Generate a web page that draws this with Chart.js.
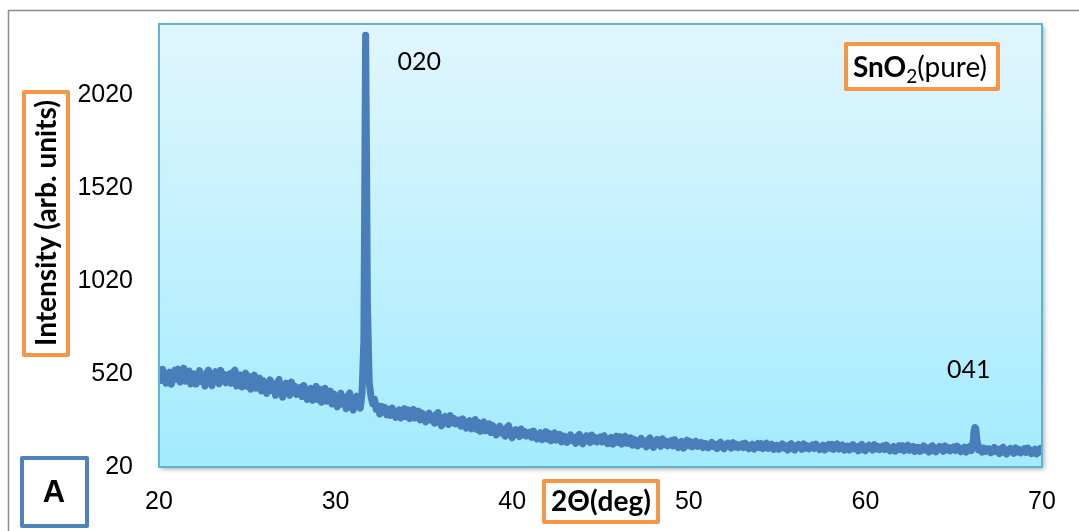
<!DOCTYPE html>
<html>
<head>
<meta charset="utf-8">
<script src="https://cdn.jsdelivr.net/npm/chart.js@4/dist/chart.umd.min.js"></script>
<style>
  html, body { margin: 0; padding: 0; background: #fff; }
  #wrap { width: 1079px; height: 531px; position: relative; }
</style>
</head>
<body>
<div id="wrap"><canvas id="xrd"></canvas></div>
<script>
// 2theta positions (deg)
const twoTheta = [
  20, 20.1, 20.2, 20.3, 20.4, 20.5, 20.6, 20.7, 20.8, 20.9,
  21, 21.1, 21.2, 21.3, 21.4, 21.5, 21.6, 21.7, 21.8, 21.9,
  22, 22.1, 22.2, 22.3, 22.4, 22.5, 22.6, 22.7, 22.8, 22.9,
  23, 23.1, 23.2, 23.3, 23.4, 23.5, 23.6, 23.7, 23.8, 23.9,
  24, 24.1, 24.2, 24.3, 24.4, 24.5, 24.6, 24.7, 24.8, 24.9,
  25, 25.1, 25.2, 25.3, 25.4, 25.5, 25.6, 25.7, 25.8, 25.9,
  26, 26.1, 26.2, 26.3, 26.4, 26.5, 26.6, 26.7, 26.8, 26.9,
  27, 27.1, 27.2, 27.3, 27.4, 27.5, 27.6, 27.7, 27.8, 27.9,
  28, 28.1, 28.2, 28.3, 28.4, 28.5, 28.6, 28.7, 28.8, 28.9,
  29, 29.1, 29.2, 29.3, 29.4, 29.5, 29.6, 29.7, 29.8, 29.9,
  30, 30.1, 30.2, 30.3, 30.4, 30.5, 30.6, 30.7, 30.8, 30.9,
  31, 31.1, 31.2, 31.3, 31.4, 31.5, 31.6, 31.65, 31.7, 31.75, 31.8, 31.9,
  32, 32.1, 32.2, 32.3, 32.4, 32.5, 32.6, 32.7, 32.8, 32.9,
  33, 33.1, 33.2, 33.3, 33.4, 33.5, 33.6, 33.7, 33.8, 33.9,
  34, 34.1, 34.2, 34.3, 34.4, 34.5, 34.6, 34.7, 34.8, 34.9,
  35, 35.1, 35.2, 35.3, 35.4, 35.5, 35.6, 35.7, 35.8, 35.9,
  36, 36.1, 36.2, 36.3, 36.4, 36.5, 36.6, 36.7, 36.8, 36.9,
  37, 37.1, 37.2, 37.3, 37.4, 37.5, 37.6, 37.7, 37.8, 37.9,
  38, 38.1, 38.2, 38.3, 38.4, 38.5, 38.6, 38.7, 38.8, 38.9,
  39, 39.1, 39.2, 39.3, 39.4, 39.5, 39.6, 39.7, 39.8, 39.9,
  40, 40.1, 40.2, 40.3, 40.4, 40.5, 40.6, 40.7, 40.8, 40.9,
  41, 41.1, 41.2, 41.3, 41.4, 41.5, 41.6, 41.7, 41.8, 41.9,
  42, 42.1, 42.2, 42.3, 42.4, 42.5, 42.6, 42.7, 42.8, 42.9,
  43, 43.1, 43.2, 43.3, 43.4, 43.5, 43.6, 43.7, 43.8, 43.9,
  44, 44.1, 44.2, 44.3, 44.4, 44.5, 44.6, 44.7, 44.8, 44.9,
  45, 45.1, 45.2, 45.3, 45.4, 45.5, 45.6, 45.7, 45.8, 45.9,
  46, 46.1, 46.2, 46.3, 46.4, 46.5, 46.6, 46.7, 46.8, 46.9,
  47, 47.1, 47.2, 47.3, 47.4, 47.5, 47.6, 47.7, 47.8, 47.9,
  48, 48.1, 48.2, 48.3, 48.4, 48.5, 48.6, 48.7, 48.8, 48.9,
  49, 49.1, 49.2, 49.3, 49.4, 49.5, 49.6, 49.7, 49.8, 49.9,
  50, 50.1, 50.2, 50.3, 50.4, 50.5, 50.6, 50.7, 50.8, 50.9,
  51, 51.1, 51.2, 51.3, 51.4, 51.5, 51.6, 51.7, 51.8, 51.9,
  52, 52.1, 52.2, 52.3, 52.4, 52.5, 52.6, 52.7, 52.8, 52.9,
  53, 53.1, 53.2, 53.3, 53.4, 53.5, 53.6, 53.7, 53.8, 53.9,
  54, 54.1, 54.2, 54.3, 54.4, 54.5, 54.6, 54.7, 54.8, 54.9,
  55, 55.1, 55.2, 55.3, 55.4, 55.5, 55.6, 55.7, 55.8, 55.9,
  56, 56.1, 56.2, 56.3, 56.4, 56.5, 56.6, 56.7, 56.8, 56.9,
  57, 57.1, 57.2, 57.3, 57.4, 57.5, 57.6, 57.7, 57.8, 57.9,
  58, 58.1, 58.2, 58.3, 58.4, 58.5, 58.6, 58.7, 58.8, 58.9,
  59, 59.1, 59.2, 59.3, 59.4, 59.5, 59.6, 59.7, 59.8, 59.9,
  60, 60.1, 60.2, 60.3, 60.4, 60.5, 60.6, 60.7, 60.8, 60.9,
  61, 61.1, 61.2, 61.3, 61.4, 61.5, 61.6, 61.7, 61.8, 61.9,
  62, 62.1, 62.2, 62.3, 62.4, 62.5, 62.6, 62.7, 62.8, 62.9,
  63, 63.1, 63.2, 63.3, 63.4, 63.5, 63.6, 63.7, 63.8, 63.9,
  64, 64.1, 64.2, 64.3, 64.4, 64.5, 64.6, 64.7, 64.8, 64.9,
  65, 65.1, 65.2, 65.3, 65.4, 65.5, 65.6, 65.7, 65.8, 65.9,
  66, 66.1, 66.15, 66.2, 66.25, 66.3, 66.4, 66.5, 66.6, 66.7, 66.8, 66.9,
  67, 67.1, 67.2, 67.3, 67.4, 67.5, 67.6, 67.7, 67.8, 67.9,
  68, 68.1, 68.2, 68.3, 68.4, 68.5, 68.6, 68.7, 68.8, 68.9,
  69, 69.1, 69.2, 69.3, 69.4, 69.5, 69.6, 69.7, 69.8, 69.9,
  70
];

// intensity (arb. units), same order as twoTheta
const intensity = [
  535, 485, 545, 515, 470, 495, 530, 465, 510, 540,
  491, 546, 476, 526, 551, 481, 501, 536, 466, 521,
  520, 465, 490, 538, 480, 510, 455, 525, 540, 470,
  457, 512, 532, 492, 467, 539, 482, 517, 472, 502,
  520, 470, 530, 540, 455, 480, 515, 450, 495, 525,
  453, 508, 438, 488, 513, 443, 463, 498, 428, 483,
  470, 415, 440, 488, 430, 460, 405, 475, 490, 420,
  395, 450, 470, 430, 405, 477, 420, 455, 410, 440,
  448, 398, 458, 428, 383, 408, 443, 378, 423, 453,
  383, 438, 368, 418, 443, 373, 393, 428, 358, 413,
  398, 343, 368, 416, 358, 388, 333, 403, 418, 348,
  326, 381, 401, 361, 336, 420, 700, 1500, 2340, 1710, 900, 480,
  400, 360, 385, 330, 350, 305, 345, 315, 340, 300,
  330, 297, 337, 317, 287, 303, 327, 283, 313, 333,
  290, 327, 280, 313, 330, 283, 297, 320, 273, 310,
  298, 262, 278, 310, 272, 292, 255, 302, 312, 265,
  241, 278, 291, 265, 248, 296, 258, 281, 251, 271,
  272, 239, 279, 259, 229, 245, 269, 225, 255, 275,
  222, 259, 212, 245, 262, 215, 229, 252, 205, 242,
  228, 192, 208, 240, 202, 222, 185, 232, 242, 195,
  177, 208, 220, 197, 183, 224, 192, 211, 186, 203,
  207, 179, 213, 196, 170, 184, 204, 167, 193, 210,
  170, 201, 161, 189, 203, 164, 175, 195, 155, 186,
  183, 152, 166, 193, 161, 178, 147, 186, 195, 155,
  145, 176, 188, 165, 151, 192, 160, 179, 154, 171,
  182, 154, 188, 171, 145, 159, 179, 142, 168, 185,
  152, 183, 143, 171, 185, 146, 157, 177, 137, 168,
  164, 133, 147, 174, 142, 159, 128, 167, 176, 136,
  125, 156, 168, 145, 131, 172, 140, 159, 134, 151,
  161, 133, 167, 150, 124, 138, 158, 121, 147, 164,
  134, 156, 128, 148, 158, 130, 138, 152, 124, 146,
  145, 123, 133, 152, 129, 141, 119, 147, 153, 125,
  118, 140, 148, 132, 122, 151, 128, 142, 124, 136,
  144, 124, 148, 136, 118, 128, 142, 116, 134, 146,
  124, 146, 118, 138, 148, 120, 128, 142, 114, 136,
  137, 115, 125, 144, 121, 133, 111, 139, 145, 117,
  111, 133, 141, 125, 115, 144, 121, 135, 117, 129,
  139, 119, 143, 131, 113, 123, 137, 111, 129, 141,
  120, 142, 114, 134, 144, 116, 124, 138, 110, 132,
  133, 111, 121, 140, 117, 129, 107, 135, 141, 113,
  107, 129, 137, 121, 111, 140, 117, 131, 113, 125,
  133, 113, 137, 125, 107, 117, 131, 105, 123, 135,
  113, 135, 107, 127, 137, 109, 117, 131, 103, 125,
  126, 104, 114, 133, 110, 122, 100, 128, 134, 106,
  101, 123, 131, 115, 105, 134, 111, 125, 107, 119,
  128, 108, 132, 120, 102, 112, 126, 100, 118, 130,
  108, 150, 215, 232, 226, 180, 112, 125, 100, 122, 104, 118,
  118, 96, 106, 125, 102, 114, 92, 120, 126, 98,
  90, 112, 120, 104, 94, 123, 100, 114, 96, 108,
  118, 98, 122, 110, 92, 102, 116, 90, 108, 120,
  100
];

const yTicks = [20, 520, 1020, 1520, 2020];
const xTicks = [20, 30, 40, 50, 60, 70];
const peakLabels = [
  { text: "020", x: 33.5, y: 2195, align: "left" },
  { text: "041", x: 65.85, y: 541, align: "center" }
];

const ORANGE = "#f79646";
const BLUE = "#4f81bd";

function framedBox(ctx, x, y, w, h, color) {
  ctx.save();
  ctx.fillStyle = "#fff";
  ctx.strokeStyle = color;
  ctx.lineWidth = 4;
  ctx.lineJoin = "round";
  ctx.beginPath();
  ctx.rect(x, y, w, h);
  ctx.fill();
  ctx.stroke();
  ctx.restore();
}

// Background frame + plot area fill
const backdrop = {
  id: "backdrop",
  beforeDraw(chart) {
    const ctx = chart.ctx;
    const a = chart.chartArea;
    ctx.save();
    ctx.fillStyle = "#fff";
    ctx.fillRect(0, 0, chart.width, chart.height);
    ctx.strokeStyle = "#8c8c8c";
    ctx.lineWidth = 1.5;
    ctx.strokeRect(8.5, 10.5, 1200, 1200);

    let g = ctx.createLinearGradient(0, a.top, 0, a.bottom);
    g.addColorStop(0, "#e1f6fd");
    g.addColorStop(1, "#a3ebfe");
    ctx.shadowColor = "rgba(0,0,0,0.35)";
    ctx.shadowBlur = 5;
    ctx.shadowOffsetX = 2;
    ctx.shadowOffsetY = 2;
    ctx.fillStyle = g;
    ctx.fillRect(a.left, a.top, a.right - a.left, a.bottom - a.top);
    ctx.restore();
  },
  afterDatasetsDraw(chart) {
    const ctx = chart.ctx;
    const a = chart.chartArea;
    ctx.save();
    ctx.strokeStyle = "#5fb4cd";
    ctx.lineWidth = 2;
    ctx.strokeRect(a.left, a.top, a.right - a.left, a.bottom - a.top);
    ctx.restore();
  }
};

// Boxed titles and peak labels
const labels = {
  id: "labels",
  afterDraw(chart) {
    const ctx = chart.ctx;
    const xs = chart.scales.x, ys = chart.scales.y;
    ctx.save();
    ctx.fillStyle = "#000";

    // peak indices
    ctx.font = "25px Lato";
    ctx.textBaseline = "middle";
    peakLabels.forEach(p => {
      ctx.textAlign = p.align;
      ctx.fillText(p.text, xs.getPixelForValue(p.x), ys.getPixelForValue(p.y));
    });

    // y title
    framedBox(ctx, 24, 92, 44, 263, ORANGE);
    ctx.save();
    ctx.translate(47, 223);
    ctx.rotate(-Math.PI / 2);
    ctx.textAlign = "center";
    ctx.textBaseline = "middle";
    ctx.font = "bold 28px Lato";
    ctx.fillStyle = "#000";
    ctx.fillText("Intensity (arb. units)", 0, 0);
    ctx.restore();

    // x title
    framedBox(ctx, 544, 481, 114, 41, ORANGE);
    ctx.font = "bold 28px Lato";
    ctx.textAlign = "center";
    ctx.textBaseline = "middle";
    ctx.fillText("2\u0398(deg)", 601, 502);

    // sample label
    framedBox(ctx, 846, 44, 152, 45, ORANGE);
    ctx.textAlign = "left";
    ctx.textBaseline = "alphabetic";
    let tx = 853;
    ctx.font = "bold 28px Lato";
    ctx.fillText("SnO", tx, 77);
    tx += ctx.measureText("SnO").width;
    ctx.font = "19px Lato";
    ctx.fillText("2", tx, 83);
    tx += ctx.measureText("2").width;
    ctx.font = "28px Lato";
    ctx.fillText("(pure)", tx, 77);

    // panel letter
    framedBox(ctx, 22, 458, 65, 68, BLUE);
    ctx.font = "bold 31px 'Liberation Sans'";
    ctx.textAlign = "center";
    ctx.textBaseline = "middle";
    ctx.fillText("A", 54, 493);
    ctx.restore();
  }
};

const points = twoTheta.map((t, i) => ({ x: t, y: intensity[i] }));

new Chart(document.getElementById("xrd"), {
  type: "line",
  data: {
    datasets: [{
      data: points,
      borderColor: "#4a7ebb",
      borderWidth: 7,
      pointRadius: 0,
      tension: 0,
      borderJoinStyle: "round",
      borderCapStyle: "round",
      fill: false
    }]
  },
  options: {
    responsive: true,
    maintainAspectRatio: false,
    animation: false,
    layout: { padding: { left: 0, right: 37, top: 24, bottom: 0 } },
    plugins: { legend: { display: false }, tooltip: { enabled: false } },
    scales: {
      x: {
        type: "linear",
        min: 20,
        max: 70,
        afterFit: s => { s.height = 64; s.paddingLeft = 0; s.paddingRight = 0; },
        afterBuildTicks: s => { s.ticks = xTicks.map(v => ({ value: v })); },
        grid: { display: false, drawTicks: false },
        border: { display: false },
        ticks: { color: "#000", padding: 20, font: { family: "Liberation Sans", size: 25 } }
      },
      y: {
        min: 20,
        max: 2400,
        afterFit: s => { s.width = 159; s.paddingTop = 0; s.paddingBottom = 0; },
        afterBuildTicks: s => { s.ticks = yTicks.map(v => ({ value: v })); },
        grid: { display: false, drawTicks: false },
        border: { display: false },
        ticks: {
          color: "#000",
          padding: 26,
          font: { family: "Liberation Sans", size: 25 },
          callback: v => String(v)
        }
      }
    }
  },
  plugins: [backdrop, labels]
});
</script>
</body>
</html>
